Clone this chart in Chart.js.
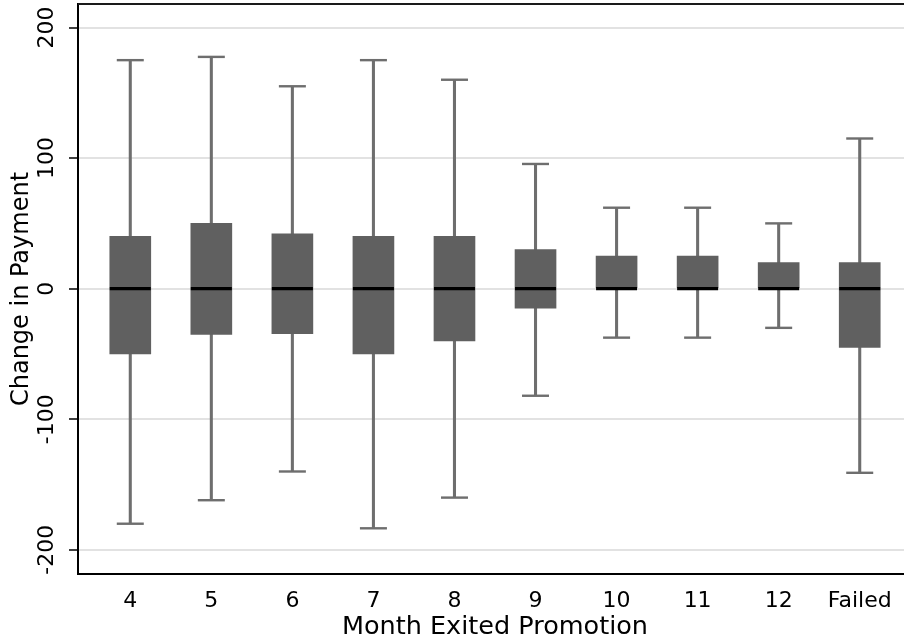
<!DOCTYPE html>
<html>
<head>
<meta charset="utf-8">
<script src="https://cdn.jsdelivr.net/npm/chart.js@4"></script>
<style>
  html, body { margin: 0; padding: 0; background: #fff; overflow: hidden; }
  /* plot frame runs just past the right edge of the window, as in the original */
  #wrap { width: 912px; height: 643px; }
</style>
</head>
<body>
<div id="wrap"><canvas id="boxChart"></canvas></div>
<script>
// Box plot values
const categories = ['4', '5', '6', '7', '8', '9', '10', '11', '12', 'Failed'];
const whiskerLow = [-180, -162, -140, -183.5, -160, -82, -37.5, -37.5, -30, -141];
const boxLow = [-50, -35, -34.5, -50, -40, -15, 0, 0, 0, -45];
const medians = [0, 0, 0, 0, 0, 0, 0, 0, 0, 0];
const boxHigh = [40, 50, 42, 40, 40, 30, 25, 25, 20, 20];
const whiskerHigh = [175, 177.5, 155, 175, 160, 95.5, 62, 62, 50, 115];
const yTicks = [-200, -100, 0, 100, 200];

const tickFont = { family: 'DejaVu Sans', size: 22 };
const xs = categories.map((c, i) => i + 1);

// draws the top edge of the plot frame
const framePlugin = {
  id: 'frame',
  afterDraw(chart) {
    const { ctx, chartArea } = chart;
    ctx.save();
    ctx.strokeStyle = '#1a1a1a';
    ctx.lineWidth = 2;
    ctx.beginPath();
    ctx.moveTo(chartArea.left, chartArea.top);
    ctx.lineTo(chartArea.right, chartArea.top);
    ctx.stroke();
    ctx.restore();
  }
};

// no extra room for labels at the ends of the axes
function noEdgePadding(scale) {
  scale.paddingTop = 0;
  scale.paddingBottom = 0;
  scale.paddingLeft = 0;
  scale.paddingRight = 0;
}

const ctx = document.getElementById('boxChart').getContext('2d');
new Chart(ctx, {
  type: 'bar',
  data: {
    datasets: [
      {
        type: 'scatter',
        label: 'median',
        data: xs.map((x, i) => ({ x: x, y: medians[i] })),
        pointStyle: 'line',
        pointRadius: 20.5,
        pointBorderWidth: 3.3,
        pointBorderColor: '#000',
        order: 0
      },
      {
        label: 'box',
        data: xs.map((x, i) => ({ x: x, y: [boxLow[i], boxHigh[i]] })),
        backgroundColor: '#606060',
        barThickness: 41,
        grouped: false,
        borderWidth: 0,
        order: 1
      },
      {
        type: 'scatter',
        label: 'caps',
        data: xs.map((x, i) => ({ x: x, y: whiskerLow[i] }))
          .concat(xs.map((x, i) => ({ x: x, y: whiskerHigh[i] }))),
        pointStyle: 'line',
        pointRadius: 13.5,
        pointBorderWidth: 2.4,
        pointBorderColor: '#6e6e6e',
        order: 2
      },
      {
        label: 'whisker',
        data: xs.map((x, i) => ({ x: x, y: [whiskerLow[i], whiskerHigh[i]] })),
        backgroundColor: '#6e6e6e',
        barThickness: 2.4,
        grouped: false,
        borderWidth: 0,
        order: 3
      }
    ]
  },
  options: {
    responsive: true,
    maintainAspectRatio: false,
    animation: false,
    layout: { autoPadding: false, padding: { left: 0, right: 0, top: 4, bottom: 0 } },
    plugins: {
      legend: { display: false },
      tooltip: { enabled: false }
    },
    scales: {
      x: {
        type: 'linear',
        offset: false,
        min: 0.355,
        max: 10.645,
        afterBuildTicks: (scale) => { scale.ticks = xs.map(v => ({ value: v })); },
        afterFit: (scale) => { scale.height = 69; noEdgePadding(scale); },
        grid: { display: false },
        border: { display: true, color: '#000', width: 2 },
        ticks: {
          color: '#000',
          font: tickFont,
          padding: 6,
          maxRotation: 0,
          autoSkip: false,
          callback: (value) => categories[value - 1]
        },
        title: {
          display: true,
          text: 'Month Exited Promotion',
          color: '#000',
          font: { family: 'DejaVu Sans', size: 25.5 },
          padding: { top: 0, bottom: 0 }
        }
      },
      y: {
        type: 'linear',
        min: -218.5,
        max: 218,
        afterBuildTicks: (scale) => { scale.ticks = yTicks.map(v => ({ value: v })); },
        afterFit: (scale) => { scale.width = 78; noEdgePadding(scale); },
        grid: {
          color: '#e2e2e2',
          lineWidth: 2,
          tickColor: '#000',
          tickLength: 9,
          tickWidth: 1.5
        },
        border: { display: true, color: '#000', width: 2 },
        ticks: {
          color: '#000',
          font: tickFont,
          padding: -3,
          minRotation: 90,
          maxRotation: 90,
          crossAlign: 'center'
        },
        title: {
          display: true,
          text: 'Change in Payment',
          color: '#000',
          font: { family: 'DejaVu Sans', size: 24 },
          padding: { top: 7, bottom: 0 }
        }
      }
    }
  },
  plugins: [framePlugin]
});
</script>
</body>
</html>
